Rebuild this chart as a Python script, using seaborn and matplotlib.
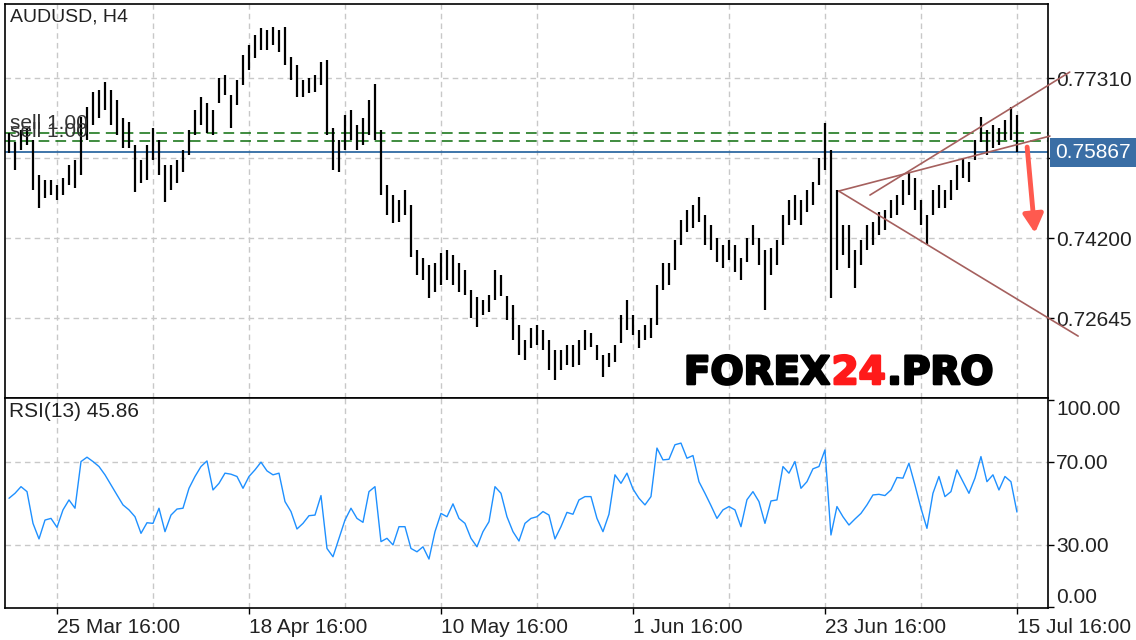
import matplotlib
matplotlib.use("Agg")
import matplotlib.pyplot as plt
import matplotlib.transforms as mtransforms
import matplotlib.patheffects as pe
from matplotlib.offsetbox import AnchoredOffsetbox, HPacker, TextArea
import numpy as np
import pandas as pd
import seaborn as sns

# AUDUSD H4 bars (high / low per bar)
highs = [
    0.7625, 0.7606, 0.7630, 0.7634, 0.7611, 0.7543, 0.7533, 0.7533, 0.7523, 0.7537,
    0.7562, 0.7572, 0.7655, 0.7674, 0.7704, 0.7708, 0.7723, 0.7708, 0.7688, 0.7653,
    0.7645, 0.7601, 0.7572, 0.7601, 0.7634, 0.7611, 0.7562, 0.7562, 0.7572, 0.7591,
    0.7630, 0.7669, 0.7694, 0.7683, 0.7669, 0.7731, 0.7737, 0.7698, 0.7727, 0.7776,
    0.7795, 0.7815, 0.7828, 0.7824, 0.7830, 0.7824, 0.7830, 0.7772, 0.7756, 0.7727,
    0.7731, 0.7737, 0.7762, 0.7766, 0.7634, 0.7611, 0.7659, 0.7669, 0.7640, 0.7653,
    0.7688, 0.7720, 0.7630, 0.7523, 0.7504, 0.7494, 0.7513, 0.7484, 0.7397, 0.7381,
    0.7368, 0.7372, 0.7391, 0.7397, 0.7387, 0.7372, 0.7358, 0.7319, 0.7305, 0.7299,
    0.7309, 0.7358, 0.7348, 0.7307, 0.7290, 0.7251, 0.7222, 0.7245, 0.7251, 0.7241,
    0.7222, 0.7203, 0.7203, 0.7212, 0.7212, 0.7222, 0.7241, 0.7235, 0.7212, 0.7193,
    0.7197, 0.7212, 0.7270, 0.7299, 0.7270, 0.7241, 0.7251, 0.7265, 0.7329, 0.7372,
    0.7372, 0.7416, 0.7455, 0.7475, 0.7484, 0.7500, 0.7465, 0.7445, 0.7420, 0.7406,
    0.7416, 0.7406, 0.7381, 0.7420, 0.7445, 0.7420, 0.7397, 0.7401, 0.7416, 0.7465,
    0.7494, 0.7504, 0.7494, 0.7513, 0.7529, 0.7576, 0.7644, 0.7591, 0.7513, 0.7445,
    0.7445, 0.7397, 0.7416, 0.7445, 0.7451, 0.7471, 0.7475, 0.7494, 0.7504, 0.7533,
    0.7548, 0.7537, 0.7494, 0.7465, 0.7513, 0.7523, 0.7513, 0.7533, 0.7562, 0.7576,
    0.7568, 0.7611, 0.7655, 0.7630, 0.7640, 0.7634, 0.7649, 0.7674, 0.7659,
]
lows = [
    0.7586, 0.7552, 0.7591, 0.7601, 0.7513, 0.7479, 0.7498, 0.7504, 0.7494, 0.7504,
    0.7523, 0.7518, 0.7543, 0.7611, 0.7640, 0.7653, 0.7669, 0.7640, 0.7620, 0.7596,
    0.7596, 0.7509, 0.7527, 0.7533, 0.7572, 0.7543, 0.7490, 0.7513, 0.7527, 0.7548,
    0.7581, 0.7620, 0.7640, 0.7624, 0.7620, 0.7683, 0.7698, 0.7634, 0.7679, 0.7717,
    0.7747, 0.7770, 0.7786, 0.7786, 0.7795, 0.7782, 0.7756, 0.7727, 0.7694, 0.7694,
    0.7702, 0.7704, 0.7717, 0.7620, 0.7552, 0.7548, 0.7591, 0.7611, 0.7591, 0.7601,
    0.7620, 0.7611, 0.7504, 0.7465, 0.7449, 0.7451, 0.7465, 0.7383, 0.7348, 0.7338,
    0.7303, 0.7315, 0.7329, 0.7338, 0.7329, 0.7315, 0.7309, 0.7265, 0.7247, 0.7270,
    0.7276, 0.7299, 0.7307, 0.7261, 0.7222, 0.7193, 0.7183, 0.7206, 0.7212, 0.7203,
    0.7163, 0.7144, 0.7163, 0.7173, 0.7169, 0.7173, 0.7203, 0.7208, 0.7183, 0.7150,
    0.7169, 0.7179, 0.7216, 0.7241, 0.7231, 0.7206, 0.7222, 0.7226, 0.7251, 0.7319,
    0.7329, 0.7358, 0.7406, 0.7432, 0.7440, 0.7451, 0.7406, 0.7397, 0.7373, 0.7362,
    0.7377, 0.7354, 0.7338, 0.7373, 0.7406, 0.7368, 0.7280, 0.7348, 0.7368, 0.7406,
    0.7445, 0.7455, 0.7445, 0.7471, 0.7484, 0.7523, 0.7552, 0.7303, 0.7358, 0.7387,
    0.7362, 0.7323, 0.7368, 0.7397, 0.7406, 0.7426, 0.7436, 0.7459, 0.7465, 0.7484,
    0.7504, 0.7475, 0.7445, 0.7409, 0.7465, 0.7479, 0.7479, 0.7494, 0.7513, 0.7537,
    0.7529, 0.7572, 0.7607, 0.7581, 0.7596, 0.7601, 0.7611, 0.7611, 0.7587,
]
rsi = [
    52.5, 54.9, 58.1, 55.7, 40.4, 32.9, 42.0, 42.8, 38.5, 46.9,
    51.7, 47.7, 70.2, 72.3, 70.2, 67.8, 63.8, 58.9, 54.1, 49.3,
    46.9, 43.6, 35.6, 40.7, 40.4, 47.7, 36.4, 44.4, 47.3, 47.7,
    57.3, 63.0, 67.8, 70.5, 56.5, 59.7, 64.6, 64.1, 63.0, 57.3,
    63.0, 66.2, 69.9, 65.7, 63.8, 64.6, 50.9, 46.1, 37.7, 40.4,
    44.1, 44.4, 53.8, 28.3, 24.3, 33.2, 42.0, 47.7, 42.8, 40.9,
    55.7, 58.1, 31.6, 33.2, 30.0, 38.8, 38.8, 28.3, 26.7, 29.1,
    23.2, 36.4, 45.2, 43.6, 49.8, 42.8, 40.4, 33.2, 29.1, 36.4,
    41.2, 58.1, 54.9, 43.6, 36.4, 31.9, 40.4, 42.8, 43.6, 46.1,
    44.4, 32.9, 38.8, 45.7, 44.8, 51.7, 53.3, 53.3, 42.8, 36.4,
    44.8, 63.8, 59.7, 64.6, 57.0, 52.5, 49.3, 53.3, 76.7, 71.0,
    71.3, 78.3, 79.1, 71.8, 73.1, 60.5, 54.9, 49.0, 42.8, 46.9,
    48.5, 46.9, 38.8, 51.8, 55.7, 50.9, 40.4, 51.2, 51.7, 67.8,
    64.6, 70.2, 57.3, 60.5, 66.7, 67.8, 75.8, 34.8, 48.5, 43.6,
    39.6, 42.5, 45.2, 49.3, 54.1, 54.4, 53.8, 56.5, 62.5, 62.2,
    69.4, 58.9, 47.7, 38.0, 54.9, 63.0, 53.3, 55.7, 66.2, 60.5,
    54.9, 62.2, 72.6, 60.5, 63.8, 56.5, 63.0, 60.5, 45.86,
]

last_price = 0.75867
sell_levels = [0.76235, 0.76080]
price_ticks = [0.72645, 0.74200, 0.75755, 0.77310]
rsi_ticks = [0, 30, 70, 100]
rsi_grid = [30, 70]
date_ticks = [8, 40, 72, 104, 136, 168]
date_labels = ["25 Mar 16:00", "18 Apr 16:00", "10 May 16:00",
               "1 Jun 16:00", "23 Jun 16:00", "15 Jul 16:00"]

# hand drawn trend lines: (bar, price) -> (bar, price)
trend_lines = [
    ((138.3, 0.75114), (173.5, 0.76183)),
    ((138.3, 0.75114), (178.2, 0.72295)),
    ((143.5, 0.75036), (176.8, 0.77427)),
]
arrow_start = (169.7, 0.75969)
arrow_end = (171.0, 0.74297)

sns.set_theme(style="white")
plt.rcParams["font.family"] = ["Liberation Sans", "DejaVu Sans"]

df = pd.DataFrame({"bar": np.arange(len(highs)), "high": highs, "low": lows, "rsi": rsi})

fig = plt.figure(figsize=(11.36, 6.4), dpi=100)
ax = fig.add_axes([0.0044, 0.378, 0.9181, 0.6156])
ax2 = fig.add_axes([0.0044, 0.05, 0.9181, 0.328], sharex=ax)

grid_kw = dict(color="#c8c8c8", lw=1.0, ls=(0, (4, 3)), zorder=0)
for a in (ax, ax2):
    for gx in range(8, 169, 16):
        a.axvline(gx, **grid_kw)
for gy in price_ticks:
    ax.axhline(gy, **grid_kw)
for gy in rsi_grid:
    ax2.axhline(gy, **grid_kw)

# price bars
ax.vlines(df["bar"], df["low"], df["high"], color="black", lw=1.6, zorder=3)

# order levels and current price
for lvl in sell_levels:
    ax.axhline(lvl, color="#0b6e0b", lw=1.1, ls=(0, (7, 4)), zorder=2)
ax.axhline(last_price, color="#2f6aa3", lw=1.3, zorder=2)

trans = mtransforms.blended_transform_factory(ax.transAxes, ax.transData)
for lvl in sell_levels:
    ax.text(0.005, lvl, "sell 1.00", transform=trans, va="bottom", ha="left",
            fontsize=15, color="#333333", zorder=4)

for (x0, y0), (x1, y1) in trend_lines:
    ax.plot([x0, x1], [y0, y1], color="#a5605e", lw=1.2, clip_on=False, zorder=4)

ax.annotate("", xy=arrow_end, xytext=arrow_start,
            arrowprops=dict(arrowstyle="-|>,head_length=1.1,head_width=0.6",
                            color="#ff5a4f", lw=3.5, shrinkA=0, shrinkB=0,
                            mutation_scale=10), zorder=5)

# watermark
def wm_props(c):
    return dict(color=c, fontsize=28, fontweight="bold", family="DejaVu Sans",
                path_effects=[pe.withStroke(linewidth=1.8, foreground=c)])

parts = [TextArea("FOREX", textprops=wm_props("black")),
         TextArea("24", textprops=wm_props("#ff1a1a")),
         TextArea(".PRO", textprops=wm_props("black"))]
box = HPacker(children=parts, align="baseline", pad=0, sep=1)
anch = AnchoredOffsetbox(loc="center left", child=box, pad=0, borderpad=0, frameon=False,
                         bbox_to_anchor=(0.651, 0.0635), bbox_transform=ax.transAxes)
ax.add_artist(anch)

ax.text(0.005, 0.99, "AUDUSD, H4", transform=ax.transAxes, va="top", ha="left",
        fontsize=14, color="#222222")

# RSI panel
sns.lineplot(data=df, x="bar", y="rsi", ax=ax2, color="#1e90ff", lw=1.0, zorder=3)
ax2.text(0.004, 0.981, "RSI(13) %.2f" % rsi[-1], transform=ax2.transAxes,
         va="top", ha="left", fontsize=15, color="#222222")

ax.set_xlim(-0.667, 173.17)
ax.set_ylim(0.71090, 0.78748)
ax2.set_ylim(-0.4, 100.8)

for a in (ax, ax2):
    a.yaxis.tick_right()
    a.set_xlabel("")
    a.set_ylabel("")
    for sp in a.spines.values():
        sp.set_visible(True)
        sp.set_color("black")
        sp.set_linewidth(1.2)
    a.tick_params(axis="y", right=True, left=False, length=4, width=1, direction="out",
                  labelsize=15, pad=2, colors="black", labelcolor="#222222")

ax.set_yticks(price_ticks)
ax.set_yticklabels(["%.5f" % p for p in price_ticks])
ax.tick_params(axis="x", bottom=False, labelbottom=False)

ax2.set_yticks(rsi_ticks)
ax2.set_yticklabels(["%.2f" % r for r in rsi_ticks])
for lbl, r in zip(ax2.get_yticklabels(), rsi_ticks):
    if r == 100:
        lbl.set_va("top")
    elif r == 0:
        lbl.set_va("bottom")

ax2.set_xticks(date_ticks)
ax2.set_xticklabels(date_labels)
for lbl in ax2.get_xticklabels():
    lbl.set_ha("left")
ax2.tick_params(axis="x", bottom=True, length=4, width=1, direction="out",
                labelsize=15, pad=3, colors="black", labelcolor="#222222")

# current price tag on the right scale
ax.annotate("%.5f" % last_price, xy=(1.0, last_price), xycoords=("axes fraction", "data"),
            xytext=(5, 0), textcoords="offset points", ha="left", va="center",
            fontsize=15, color="white", annotation_clip=False, zorder=6,
            bbox=dict(boxstyle="square,pad=0.25", fc="#3a6ea5", ec="none"))

fig.savefig("out.png", dpi=100)
